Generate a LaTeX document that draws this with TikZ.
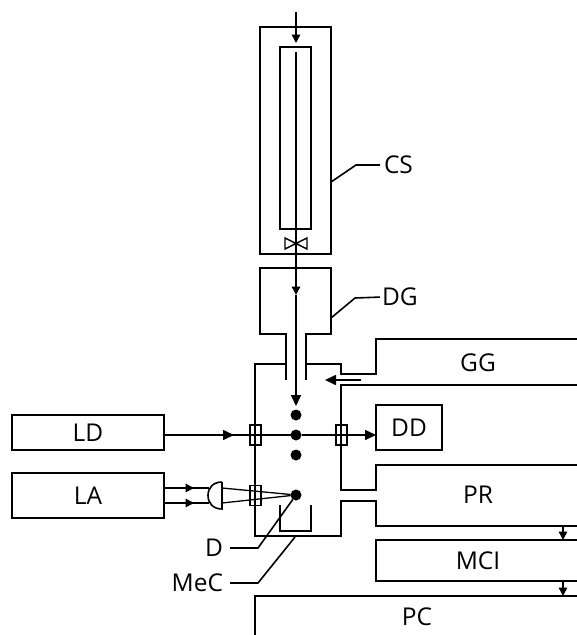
\documentclass[tikz,border=0pt]{standalone}
\usepackage{fontspec}
\setmainfont{Open Sans}
\usetikzlibrary{arrows.meta}
\tikzset{
	wall/.style={line width=2.2pt, line join=miter},
	beam/.style={line width=1.6pt},
	thin beam/.style={line width=1.3pt},
	tip/.style={-{Triangle[length=11pt,width=10pt]}},
	small tip/.style={-{Triangle[length=8.5pt,width=8.5pt]}},
	box/.style={draw, line width=2.2pt, outer sep=0pt, inner sep=0pt},
	label/.style={inner sep=0pt, outer sep=0pt, font=\fontsize{24.5}{24.5}\selectfont},
	window/.style={draw, line width=1.6pt, minimum width=11pt, minimum height=20pt, inner sep=0pt, outer sep=0pt},
	dot/.style={circle, fill=black, minimum size=11pt, inner sep=0pt, outer sep=0pt},
}
\begin{document}
\begin{tikzpicture}
	[x=1pt, y=-1pt]
	\useasboundingbox (0,0) rectangle (577,635);
	% boxes
	\node[box, minimum width=152pt, minimum height=35pt] (ld) at (88,432.5) {};
	\node[box, minimum width=152pt, minimum height=45pt] (la) at (88,495.5) {};
	\node[box, minimum width=66pt, minimum height=45pt] (dd) at (409,427.5) {};
	\node[box, minimum width=71pt, minimum height=227pt] (cs) at (295.5,140.5) {};
	\node[box, minimum width=31pt, minimum height=182pt] (tube) at (295.5,138) {};
	% open shapes
	\draw[wall] (286,380) -- (286,334) -- (260,334) -- (260,268) -- (331,268) -- (331,334) -- (306,334) -- (306,380);
	\draw[wall] (286,364) -- (255,364) -- (255,536) -- (341,536) -- (341,501) -- (376,501) -- (376,526) -- (577,526);
	\draw[wall] (306,364) -- (341,364) -- (341,374) -- (376,374) -- (376,339) -- (577,339);
	\draw[wall] (577,385) -- (341,385) -- (341,490) -- (376,490) -- (376,465) -- (577,465);
	\draw[wall] (577,540) -- (376,540) -- (376,581) -- (577,581);
	\draw[wall] (255,635) -- (255,596) -- (577,596);
	\draw[wall] (280,505) -- (280,531) -- (311,531) -- (311,505);
	% texts
	\node[label] (ldt) at (88,433) {LD};
	\node[label] (lat) at (88,496) {LA};
	\node[label] (ddt) at (409,428) {DD};
	\node[label] (gg) at (478,363) {GG};
	\node[label] (pr) at (478,495) {PR};
	\node[label] (mci) at (478,561) {MCI};
	\node[label] (pc) at (417,617) {PC};
	\node[label, anchor=west] (csl) at (384,165) {CS};
	\node[label, anchor=west] (dgl) at (382,297) {DG};
	\node[label, anchor=east] (dl) at (223,548) {D};
	\node[label, anchor=east] (mec) at (223,583) {MeC};
	% sample dots and windows
	\node[dot] (d1) at (296,415) {};
	\node[dot] (d2) at (296,435) {};
	\node[dot] (d3) at (296,455) {};
	\node[dot] (d4) at (296,495) {};
	\node[window] (w1) at (255.5,435) {};
	\node[window] (w2) at (341.5,435) {};
	\node[window] (w3) at (255.5,495.5) {};
	% lens and valve
	\draw[beam] (222,482) -- (222,509) .. controls (213,509) and (208,503) .. (208,495.5) .. controls (208,488) and (213,482) .. (222,482);
	\draw[line width=1.4pt] (285,238) -- (307,249) -- (307,238) -- (285,249) -- cycle;
	% connectors
	\coordinate (top) at (296,12);
	\coordinate (t1) at (296,43);
	\coordinate (t2) at (296,52);
	\coordinate (t3) at (296,295);
	\coordinate (t4) at (296,406);
	\coordinate (b1) at (165,435);
	\coordinate (b2) at (234,435);
	\coordinate (b3) at (165,488);
	\coordinate (b4) at (194,488);
	\coordinate (b5) at (165,503);
	\coordinate (b6) at (194,503);
	\coordinate (b7) at (222,488);
	\coordinate (b8) at (222,503);
	\coordinate (b9) at (376,435);
	\draw[beam, small tip] (top) -- (t1);
	\draw[beam, small tip] (t2) -- (t3);
	\draw[beam, tip] (t3) -- (t4);
	\draw[beam] (b1) -- (d2);
	\draw[beam, tip] (b1) -- (b2);
	\draw[beam, tip] (d2) -- (b9);
	\draw[beam] (b3) -- (208.5,488);
	\draw[beam] (b5) -- (208.5,503);
	\draw[beam, small tip] (b3) -- (b4);
	\draw[beam, small tip] (b5) -- (b6);
	\draw[thin beam] (b7) -- (d4);
	\draw[thin beam] (b8) -- (d4);
	\draw[beam, tip] (361,380) -- (325,380);
	\draw[beam, small tip] (563,526) -- (563,540);
	\draw[beam, small tip] (563,581) -- (563,596);
	% leaders
	\draw[beam, shorten >=4pt] (cs.east |- 0,182) -- (356,165) -- (csl.west);
	\draw[beam, shorten >=2pt] (331,318) -- (355,298) -- (dgl.west);
	\draw[beam, shorten >=7pt] (d4) -- (258,548) -- (dl.east);
	\draw[beam, shorten >=7pt] (295,537) -- (258,583) -- (mec.east);
\end{tikzpicture}
\end{document}
